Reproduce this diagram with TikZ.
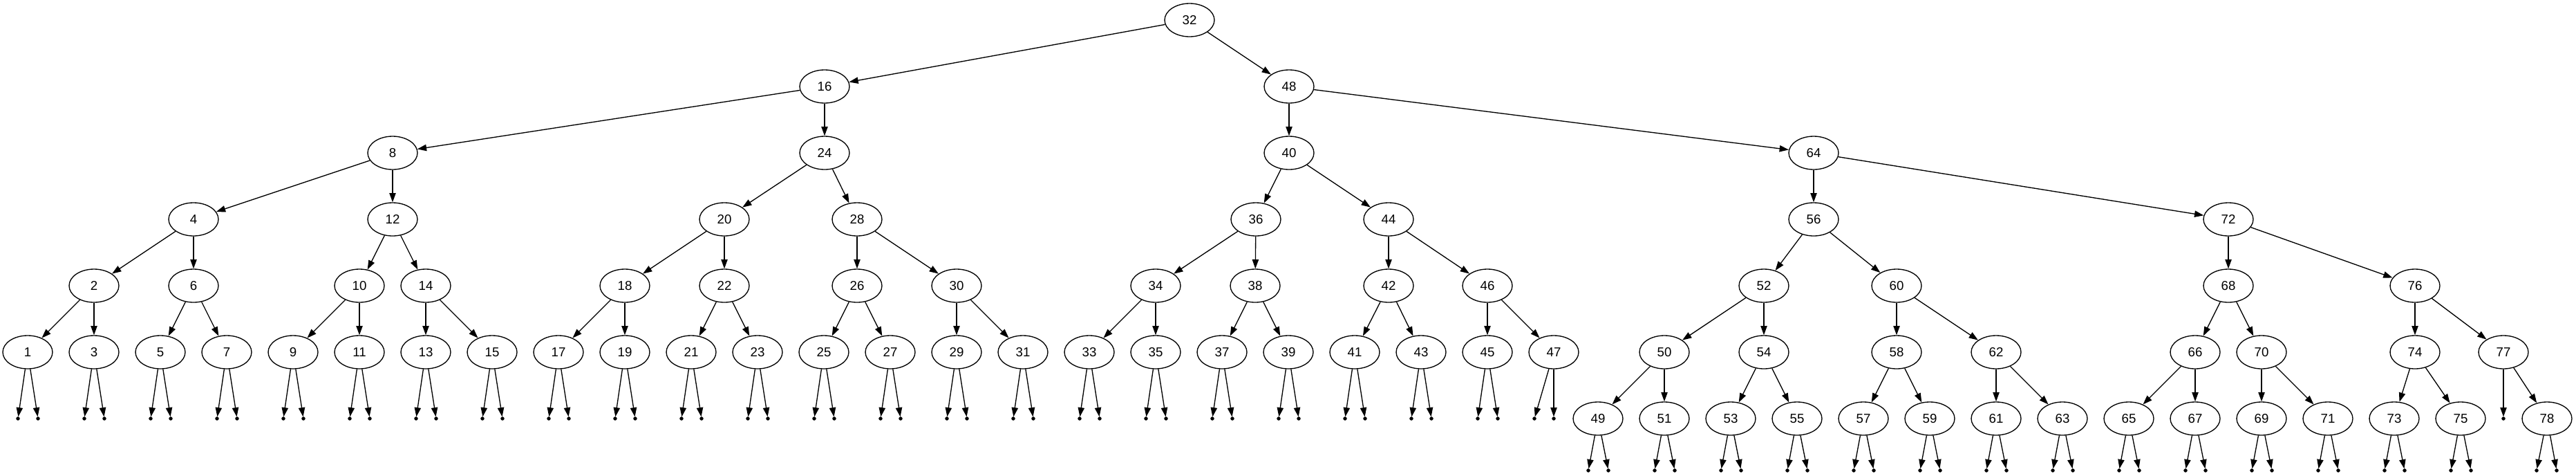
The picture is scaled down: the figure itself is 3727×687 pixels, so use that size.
\documentclass[tikz,border=0pt]{standalone}
\usepackage{fontspec}
\setmainfont{Liberation Sans}
\usetikzlibrary{arrows.meta,calc,shapes.geometric}
\tikzset{
  keynode/.style={draw=black,ellipse,line width=1pt,minimum width=54pt,minimum height=36pt,
    inner sep=0pt,font=\fontsize{14pt}{16pt}\selectfont},
  nullpt/.style={circle,fill=black,draw=black,line width=.4pt,inner sep=0pt,minimum size=3.6pt},
  link/.style={-{Triangle[length=10pt,width=7pt]},draw=black,line width=1pt}
}
\begin{document}
\begin{tikzpicture}[x=.75pt,y=-.75pt]
  \useasboundingbox (0,0) rectangle (3727,687);
  % keys, one row per depth
  \node[keynode] (n32) at (1721,29) {32};
  \foreach \v/\x in {16/1193,48/1865}
    \node[keynode] (n\v) at (\x,125) {\v};
  \foreach \v/\x in {8/568,24/1193,40/1865,64/2624}
    \node[keynode] (n\v) at (\x,221) {\v};
  \foreach \v/\x in {4/280,12/568,20/1048,28/1240,36/1817,44/2009,56/2624,72/3224}
    \node[keynode] (n\v) at (\x,317) {\v};
  \foreach \v/\x in {2/136,6/280,10/520,14/616,18/904,22/1048,26/1240,30/1384,
      34/1672,38/1816,42/2009,46/2152,52/2552,60/2744,68/3224,76/3494}
    \node[keynode] (n\v) at (\x,413) {\v};
  \foreach \v/\x in {1/40,3/136,5/232,7/328,9/424,11/520,13/616,15/712,17/808,19/904,
      21/1000,23/1096,25/1192,27/1288,29/1384,31/1480,33/1576,35/1672,37/1768,39/1864,
      41/1960,43/2056,45/2152,47/2248,50/2408,54/2552,58/2744,62/2888,66/3176,70/3272,
      74/3494,77/3622}
    \node[keynode] (n\v) at (\x,509) {\v};
  \foreach \v/\x in {49/2312,51/2408,53/2504,55/2600,57/2696,59/2792,61/2888,63/2984,
      65/3080,67/3176,69/3272,71/3368,73/3464,75/3560,78/3685}
    \node[keynode] (n\v) at (\x,605) {\v};
  % parent -> child
  \foreach \p/\c in {32/16,32/48,16/8,16/24,48/40,48/64,8/4,8/12,24/20,24/28,40/36,40/44,
      64/56,64/72,4/2,4/6,12/10,12/14,20/18,20/22,28/26,28/30,36/34,36/38,44/42,44/46,
      56/52,56/60,72/68,72/76,2/1,2/3,6/5,6/7,10/9,10/11,14/13,14/15,18/17,18/19,
      22/21,22/23,26/25,26/27,30/29,30/31,34/33,34/35,38/37,38/39,42/41,42/43,46/45,46/47,
      52/50,52/54,60/58,60/62,68/66,68/70,76/74,76/77,50/49,50/51,54/53,54/55,58/57,58/59,
      62/61,62/63,66/65,66/67,70/69,70/71,74/73,74/75,77/78}
    \draw[link] (n\p) -- (n\c);
  % empty children
  \foreach \v/\dl/\dr/\dy in {1/-14/15/96,3/-14/15/96,5/-14/15/96,7/-14/15/96,9/-14/15/96,
      11/-14/15/96,13/-14/15/96,15/-14/15/96,17/-14/15/96,19/-14/15/96,21/-14/15/96,
      23/-14/15/96,25/-14/15/96,27/-14/15/96,29/-14/15/96,31/-14/15/96,33/-14/15/96,
      35/-14/15/96,37/-14/15/96,39/-14/15/96,41/-14/15/96,43/-14/15/96,45/-14/15/96,
      47/-28/0/96,49/-14/15/75,51/-14/15/75,53/-14/15/75,55/-14/15/75,57/-14/15/75,
      59/-14/15/75,61/-14/15/75,63/-14/15/75,65/-14/15/75,67/-14/15/75,69/-14/15/75,
      71/-14/15/75,73/-14/15/75,75/-14/15/75,78/-15/14/75}{
    \node[nullpt] (nul\v L) at ($(n\v)+(\dl,\dy)$) {};
    \node[nullpt] (nul\v R) at ($(n\v)+(\dr,\dy)$) {};
    \draw[link] (n\v) -- (nul\v L);
    \draw[link] (n\v) -- (nul\v R);
  }
  \node[nullpt] (nul77L) at ($(n77)+(0,96)$) {};
  \draw[link] (n77) -- (nul77L);
\end{tikzpicture}
\end{document}
